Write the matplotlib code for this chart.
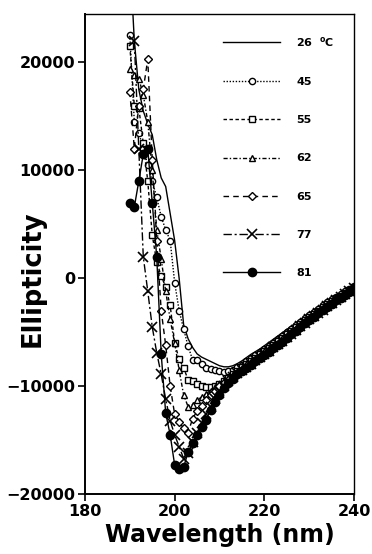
import numpy as np
import matplotlib
matplotlib.use("Agg")
import matplotlib.pyplot as plt

# CD spectra, wavelength (nm) vs ellipticity, one curve per temperature
wavelength = list(range(190, 241))

e26 = [30000, 22000, 17500, 15500, 14300, 13300, 11000, 9300, 8500, 6000,
       3500, 0, -4300, -5600, -6400, -7000, -7300, -7500, -7700, -7900,
       -8100, -8200, -8200, -8100, -7900,
       -7650, -7350, -7050, -6800, -6550, -6250, -5950, -5650, -5350, -5050,
       -4750, -4450, -4150, -3850, -3550, -3250, -2950, -2700, -2450, -2200,
       -1950, -1700, -1450, -1200, -950, -700]
e45 = [22500, 14500, 13500, 12000, 10500, 9000, 7500, 5700, 4500, 3500,
       -400, -3000, -4700, -6300, -7550, -7600, -7900, -8300, -8400, -8500,
       -8600, -8650, -8600, -8450, -8250,
       -8000, -7700, -7400, -7150, -6850, -6550, -6250, -5950, -5650, -5350,
       -5000, -4700, -4350, -4050, -3700, -3400, -3100, -2800, -2500, -2200,
       -1950, -1700, -1450, -1200, -950, -700]
e55 = [21500, 16000, 15800, 12500, 9000, 4000, 1500, 200, -800, -2500,
       -6000, -7500, -8300, -9400, -9500, -9800, -10000, -10100, -10100, -10000,
       -9800, -9500, -9200, -8900, -8600,
       -8250, -7950, -7650, -7350, -7050, -6750, -6450, -6150, -5850, -5550,
       -5200, -4900, -4550, -4250, -3900, -3600, -3300, -3000, -2700, -2400,
       -2100, -1850, -1600, -1350, -1100, -850]
e62 = [19400, 18800, 18500, 17000, 14500, 10000, 4500, 1800, -1200, -3800,
       -6000, -8500, -10800, -11900, -11700, -11300, -11000, -10700, -10400, -10100,
       -9800, -9500, -9200, -8900, -8650,
       -8350, -8050, -7750, -7450, -7150, -6850, -6550, -6250, -5950, -5650,
       -5300, -5000, -4650, -4350, -4000, -3700, -3400, -3100, -2800, -2500,
       -2200, -1900, -1650, -1400, -1150, -850]
e65 = [17300, 12000, 16000, 17500, 20300, 11000, 3500, -3000, -6200, -10000,
       -12600, -13300, -13900, -14300, -13000, -12300, -11800, -11300, -10800, -10400,
       -10000, -9700, -9400, -9100, -8800,
       -8450, -8150, -7850, -7550, -7250, -6950, -6650, -6350, -6050, -5750,
       -5400, -5100, -4750, -4400, -4050, -3750, -3450, -3150, -2850, -2550,
       -2250, -1950, -1700, -1450, -1150, -850]
e77 = [np.nan, 22000, 12000, 2000, -1200, -4500, -6900, -8900, -11200, -13200,
       -14500, -15600, -16700, -16200, -15200, -14300, -13400, -12600, -11900, -11200,
       -10600, -10000, -9500, -9100, -8800,
       -8500, -8200, -7900, -7600, -7300, -7000, -6700, -6400, -6100, -5800,
       -5450, -5150, -4800, -4450, -4100, -3800, -3500, -3200, -2900, -2600,
       -2300, -2000, -1750, -1500, -1200, -900]
e81 = [7000, 6600, 9000, 11500, 12000, 7000, 2000, -7000, -12500, -14500,
       -17300, -17700, -17500, -16100, -15300, -14500, -13800, -13100, -12200, -11500,
       -10800, -10200, -9700, -9300, -8900,
       -8600, -8300, -8000, -7700, -7400, -7100, -6800, -6500, -6200, -5900,
       -5550, -5200, -4850, -4500, -4150, -3850, -3550, -3250, -2950, -2650,
       -2350, -2050, -1800, -1550, -1250, -950]

labels = ['26  $^{\\bf o}$C', '45', '55', '62', '65', '77', '81']
series = [e26, e45, e55, e62, e65, e77, e81]

styles = [
    dict(ls='-', marker=None),
    dict(ls=(0, (1, 1.2)), marker='o', ms=4.5, mfc='white'),
    dict(ls=(0, (2.5, 1.8)), marker='s', ms=4.5, mfc='white'),
    dict(ls=(0, (3, 1.5, 1, 1.5)), marker='^', ms=4, mfc='white'),
    dict(ls=(0, (4, 3)), marker='D', ms=4.5, mfc='white'),
    dict(ls=(0, (6, 2, 1.5, 2)), marker='x', ms=6.5, mew=1.2),
    dict(ls='-', marker='o', ms=6, mfc='black'),
]

plt.rcParams['font.family'] = ['DejaVu Sans']
plt.rcParams['font.weight'] = 'bold'
plt.rcParams['mathtext.fontset'] = 'dejavusans'

fig = plt.figure(figsize=(3.72, 5.54), dpi=100)
ax = fig.add_axes([0.2285, 0.108, 0.723, 0.867])

for lab, y, st in zip(labels, series, styles):
    ax.plot(wavelength, y, color='black', lw=1.0, mec='black', label=lab, **st)

ax.set_xlim(180, 240)
ax.set_ylim(-20000, 24500)
ax.set_xticks([180, 200, 220, 240])
ax.set_yticks([-20000, -10000, 0, 10000, 20000])
ax.tick_params(direction='out', length=5, width=1.2, labelsize=11.5, pad=2)
for side in ['left', 'bottom']:
    ax.spines[side].set_linewidth(1.4)
for side in ['top', 'right']:
    ax.spines[side].set_linewidth(1.0)

ax.set_xlabel('Wavelength (nm)', fontsize=17, fontweight='bold', labelpad=3)
ax.set_ylabel('Ellipticity', fontsize=18.5, fontweight='bold')
ax.yaxis.set_label_coords(-0.145, 0.449)

leg = ax.legend(loc='upper left', bbox_to_anchor=(0.498, 0.965), frameon=False,
                fontsize=8, numpoints=1, handlelength=5.1, handletextpad=1.45,
                labelspacing=2.53, borderaxespad=0.0)
for t in leg.get_texts():
    t.set_fontweight('bold')

fig.savefig('out.png', dpi=100)
